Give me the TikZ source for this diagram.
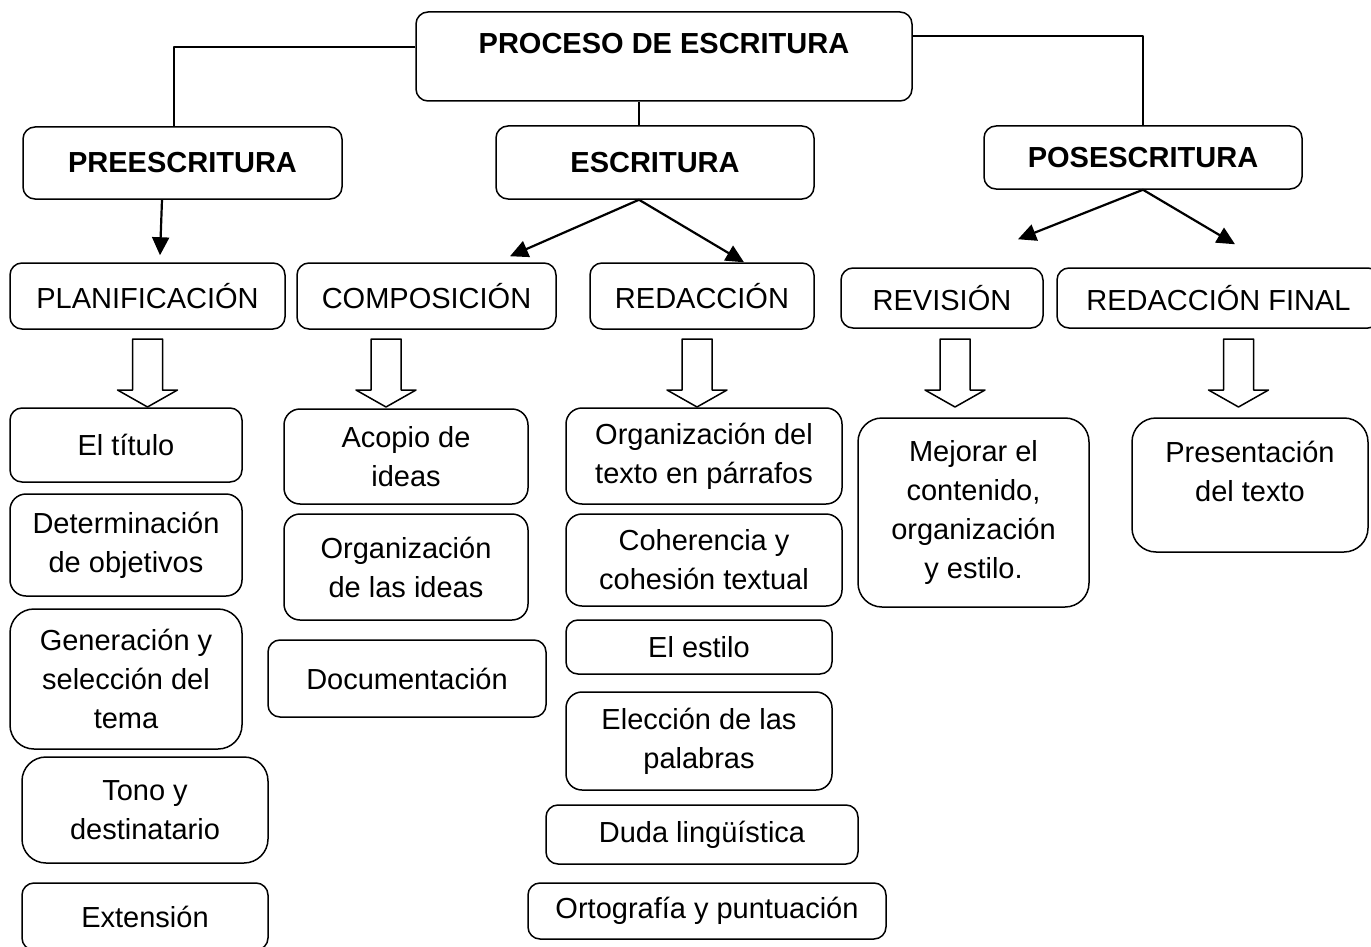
\documentclass[tikz,border=0pt]{standalone}
\usepackage{fontspec}
\setmainfont{Liberation Sans}
\usetikzlibrary{arrows.meta}

\begin{document}
\begin{tikzpicture}[x=1pt, y=-1pt, line join=round,
    box/.style={draw, line width=1.5pt, rounded corners=12pt, inner sep=0pt, align=center},
    roundbox/.style={box, rounded corners=24pt},
    link/.style={line width=1.5pt},
    arr/.style={line width=2.2pt, -{Triangle[length=18pt, width=17pt]}},
    hollow/.style={line width=1.5pt, fill=white},
    font=\fontsize{29pt}{39pt}\selectfont]
    \useasboundingbox (0,0) rectangle (1371,947);
    \clip (0,0) rectangle (1371,947);

    \node[box, minimum width=496pt, minimum height=89pt] (proc) at (664,56.5) {};
    \node[font=\fontsize{29pt}{39pt}\selectfont\bfseries] (proc-t) at (664,44) {PROCESO DE ESCRITURA};

    \node[box, font=\fontsize{29pt}{39pt}\selectfont\bfseries, minimum width=319pt, minimum height=72pt] (pre) at (182.5,163) {PREESCRITURA};
    \node[box, font=\fontsize{29pt}{39pt}\selectfont\bfseries, minimum width=318pt, minimum height=73pt] (esc) at (655,162.5) {ESCRITURA};
    \node[box, font=\fontsize{29pt}{39pt}\selectfont\bfseries, minimum width=318pt, minimum height=63pt] (pos) at (1143,157.5) {POSESCRITURA};

    \node[box, minimum width=275pt, minimum height=66pt] (plan) at (147.5,296) {PLANIFICACIÓN};
    \node[box, minimum width=259pt, minimum height=66pt] (comp) at (426.5,296) {COMPOSICIÓN};
    \node[box, minimum width=224pt, minimum height=66pt] (red) at (702,296) {REDACCIÓN};
    \node[box, minimum width=202pt, minimum height=60pt] (rev) at (942,298) {REVISIÓN};
    \node[box, minimum width=323pt, minimum height=60pt] (redf) at (1218.5,298) {REDACCIÓN FINAL};

    \draw[link] ([yshift=9.5pt]proc.west) -| ([xshift=-8.5pt]pre.north);
    \draw[link] ([yshift=20.5pt]proc.east) -| (pos.north);
    \draw[link] ([xshift=-25pt]proc.south) -- ([xshift=-16pt]esc.north);

    \draw[arr] ([xshift=-20.5pt]pre.south) -- ([xshift=12.5pt, yshift=7pt]plan.north);
    \draw[arr] ([xshift=-16pt]esc.south) -- ([xshift=83.5pt, yshift=6pt]comp.north);
    \draw[arr] ([xshift=-16pt]esc.south) -- ([xshift=42pt]red.north);
    \draw[arr] (pos.south) -- ([xshift=76pt, yshift=28pt]rev.north);
    \draw[arr] (pos.south) -- ([xshift=16.5pt, yshift=23pt]redf.north);

    \foreach \x in {147.5, 386, 697, 955, 1238.5} {
        \draw[hollow] (\x-15,339) -- (\x+15,339) -- (\x+15,390) -- (\x+30,390)
            -- (\x,407) -- (\x-30,390) -- (\x-15,390) -- cycle;
    }

    \node[box, minimum width=232pt, minimum height=74pt] (titulo) at (126,445) {El título};
    \node[box, rounded corners=16pt, minimum width=232pt, minimum height=102pt] (objet) at (126,545) {Determinación\\de objetivos};
    \node[roundbox, minimum width=232pt, minimum height=140pt] (tema) at (126,679) {Generación y\\selección del\\tema};
    \node[roundbox, minimum width=246pt, minimum height=106pt] (tono) at (145,810) {Tono y\\destinatario};
    \node[box, minimum width=246pt, minimum height=67pt] (ext) at (145,916.5) {Extensión};

    \node[box, rounded corners=16pt, minimum width=244pt, minimum height=95pt] (acopio) at (406,456.5) {Acopio de\\ideas};
    \node[box, rounded corners=16pt, minimum width=244pt, minimum height=106pt] (orgid) at (406,567) {Organización\\de las ideas};
    \node[box, minimum width=278pt, minimum height=77pt] (docu) at (407,678.5) {Documentación};

    \node[box, rounded corners=16pt, minimum width=276pt, minimum height=96pt] (orgtx) at (704,456) {Organización del\\texto en párrafos};
    \node[box, rounded corners=16pt, minimum width=276pt, minimum height=92pt] (coher) at (704,560) {Coherencia y\\cohesión textual};
    \node[box, minimum width=266pt, minimum height=54pt] (estilo) at (699,647) {El estilo};
    \node[box, rounded corners=16pt, minimum width=266pt, minimum height=98pt] (elecc) at (699,741) {Elección de las\\palabras};
    \node[box, minimum width=312pt, minimum height=59pt] (duda) at (702,834.5) {Duda lingüística};
    \node[box, minimum width=358pt, minimum height=56pt] (orto) at (707,911) {Ortografía y puntuación};

    \node[roundbox, minimum width=231pt, minimum height=189pt] (mejor) at (973.5,512.5) {Mejorar el\\contenido,\\organización\\y estilo.};
    \node[roundbox, minimum width=236pt, minimum height=134pt] (pres) at (1250,485) {};
    \node[align=center] (pres-t) at (1250,471) {Presentación\\del texto};
\end{tikzpicture}
\end{document}
